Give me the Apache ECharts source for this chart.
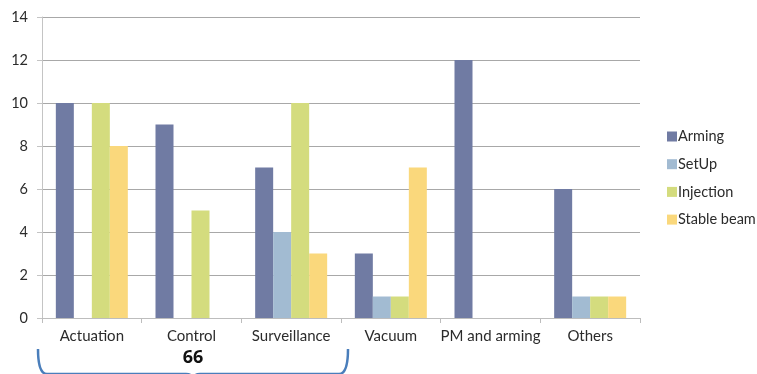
<!DOCTYPE html>
<html>
<head>
<meta charset="utf-8">
<script src="https://cdn.jsdelivr.net/npm/echarts@6/dist/echarts.min.js"></script>
<style>
  html, body { margin: 0; padding: 0; background: #fff; }
  #chart { width: 757px; height: 374px; }
</style>
</head>
<body>
<div id="chart"></div>
<script>
// Categories and per-phase counts
const categories = ['Actuation', 'Control', 'Surveillance', 'Vacuum', 'PM and arming', 'Others'];
const arming     = [10, 9, 7, 3, 12, 6];
const setUp      = [0, 0, 4, 1, 0, 1];
const injection  = [10, 5, 10, 1, 0, 1];
const stableBeam = [8, 0, 3, 7, 0, 1];
const yTicks     = [0, 2, 4, 6, 8, 10, 12, 14];

// Total of the first three categories, shown under the bracket
const groupedCount = [arming, setUp, injection, stableBeam]
  .reduce((s, arr) => s + arr.slice(0, 3).reduce((a, b) => a + b, 0), 0);

const font = 'Lato, "Open Sans", sans-serif';
const colors = ['#707ba3', '#a2bbd2', '#d4dc7e', '#fad87c'];
const bracketStyle = { fill: 'none', stroke: '#4a7ebb', lineWidth: 2.5 };

const chart = echarts.init(document.getElementById('chart'));

function bar(name, data) {
  return {
    name: name,
    type: 'bar',
    data: data,
    barWidth: 18,
    barGap: '0%',
    barCategoryGap: '28%'
  };
}

// Curly bracket pieces under the first three categories
function curve(x1, y1, cx, cy, x2, y2) {
  return { type: 'bezierCurve', shape: { x1: x1, y1: y1, cpx1: cx, cpy1: cy, x2: x2, y2: y2 }, style: bracketStyle };
}
function seg(x1, y1, x2, y2) {
  return { type: 'line', shape: { x1: x1, y1: y1, x2: x2, y2: y2 }, style: bracketStyle };
}

chart.setOption({
  animation: false,
  color: colors,
  grid: { left: 42, right: 117, top: 17, bottom: 56, containLabel: false },
  legend: {
    orient: 'vertical',
    left: 662,
    top: 124,
    itemWidth: 10,
    itemHeight: 10,
    itemGap: 12.7,
    icon: 'rect',
    textStyle: { fontFamily: font, fontSize: 14.5, color: '#2b2b2b', padding: [0, 0, 0, -4], lineHeight: 14 },
    data: ['Arming', 'SetUp', 'Injection', 'Stable beam']
  },
  xAxis: {
    type: 'category',
    data: categories,
    axisLine: { lineStyle: { color: '#bdbdbd', width: 1 } },
    axisTick: { show: true, interval: 0, length: 5, lineStyle: { color: '#bdbdbd' } },
    axisLabel: { interval: 0, fontFamily: font, fontSize: 15, color: '#2b2b2b', margin: 11 }
  },
  yAxis: {
    type: 'value',
    min: yTicks[0],
    max: yTicks[yTicks.length - 1],
    interval: 2,
    axisLine: { show: true, lineStyle: { color: '#c4c4c4', width: 1 } },
    axisTick: { show: true, length: 5, lineStyle: { color: '#c4c4c4' } },
    axisLabel: { fontFamily: font, fontSize: 14.5, color: '#2b2b2b', margin: 14 },
    splitLine: { show: true, lineStyle: { color: '#a8a8a8', width: 1 } }
  },
  series: [
    bar('Arming', arming),
    bar('SetUp', setUp),
    bar('Injection', injection),
    bar('Stable beam', stableBeam)
  ],
  graphic: [
    curve(38, 349, 38, 374, 47, 374),
    seg(47, 374, 186, 374),
    curve(186, 374, 193, 374, 193, 381),
    curve(193, 381, 193, 374, 200, 374),
    seg(200, 374, 339, 374),
    curve(339, 374, 348, 374, 348, 349),
    {
      type: 'text',
      x: 193,
      y: 358,
      style: {
        text: String(groupedCount),
        fontFamily: '"Open Sans", "Noto Sans", sans-serif',
        fontWeight: 'bold',
        fontSize: 18,
        fill: '#111',
        align: 'center',
        verticalAlign: 'middle'
      }
    }
  ]
});
</script>
</body>
</html>
